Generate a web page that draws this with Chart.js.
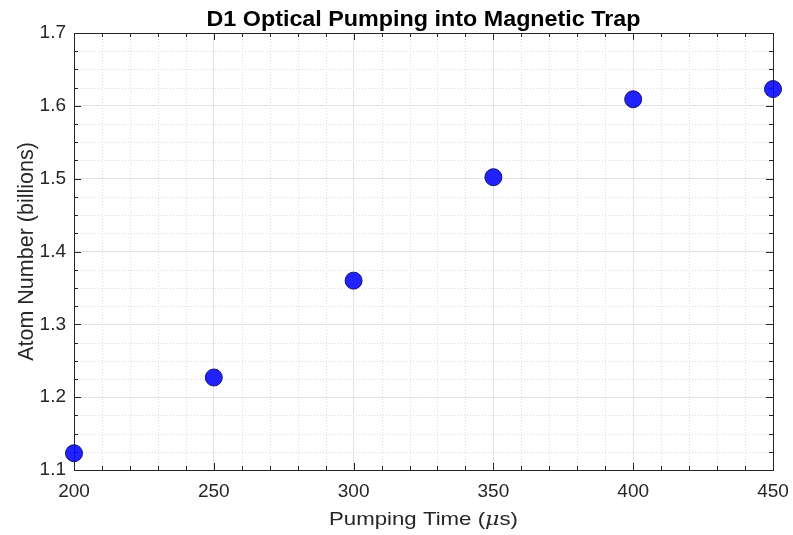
<!DOCTYPE html>
<html>
<head>
<meta charset="utf-8">
<script src="https://cdn.jsdelivr.net/npm/chart.js@4"></script>
<style>
  html, body { margin: 0; padding: 0; background: #fff; }
  #wrap { width: 793px; height: 535px; }
</style>
</head>
<body>
<div id="wrap"><canvas id="trapChart"></canvas></div>
<script>
// data
const pumpTimes = [200, 250, 300, 350, 400, 450];        // microseconds
const atomNumbers = [1.123, 1.227, 1.360, 1.502, 1.609, 1.623]; // billions
const xTicks = [200, 250, 300, 350, 400, 450];
const yTicks = [1.1, 1.2, 1.3, 1.4, 1.5, 1.6, 1.7];
const xMinorStep = 10;
const yMinorStep = 0.025;

const FONT = "'Liberation Sans', Arial, Helvetica, sans-serif";
const AXIS_COLOR = "#262626";

// text drawn a bit wider than the font, like the matlab export
function wideText(ctx, parts, cx, baseline, stretch) {
  let total = 0;
  parts.forEach(p => { ctx.font = p.f; p.w = ctx.measureText(p.t).width; total += p.w; });
  ctx.save();
  ctx.translate(cx, baseline);
  ctx.scale(stretch, 1);
  let px = -total / 2;
  ctx.textAlign = "left";
  ctx.textBaseline = "alphabetic";
  parts.forEach(p => { ctx.font = p.f; ctx.fillText(p.t, px, 0); px += p.w; });
  ctx.restore();
}

// minor grid, inward ticks, box and text labels (matlab look)
const matlabAxes = {
  id: "matlabAxes",
  beforeDatasetsDraw(chart) {
    const { ctx, chartArea: a, scales: { x, y } } = chart;
    ctx.save();

    // minor dotted grid
    ctx.strokeStyle = "#dcdcdc";
    ctx.lineWidth = 1;
    ctx.setLineDash([1, 2]);
    for (let v = x.min + xMinorStep; v < x.max; v += xMinorStep) {
      if (xTicks.some(t => Math.abs(t - v) < 1e-6)) continue;
      const px = Math.round(x.getPixelForValue(v)) + 0.5;
      ctx.beginPath(); ctx.moveTo(px, a.top); ctx.lineTo(px, a.bottom); ctx.stroke();
    }
    for (let v = y.min + yMinorStep; v < y.max - 1e-9; v += yMinorStep) {
      if (yTicks.some(t => Math.abs(t - v) < 1e-6)) continue;
      const py = Math.round(y.getPixelForValue(v)) + 0.5;
      ctx.beginPath(); ctx.moveTo(a.left, py); ctx.lineTo(a.right, py); ctx.stroke();
    }
    ctx.setLineDash([]);

    // ticks pointing inwards on all four sides
    ctx.strokeStyle = AXIS_COLOR;
    const tick = (px, py, dx, dy) => {
      ctx.beginPath(); ctx.moveTo(px, py); ctx.lineTo(px + dx, py + dy); ctx.stroke();
    };
    for (let v = x.min; v <= x.max + 1e-6; v += xMinorStep) {
      const major = xTicks.some(t => Math.abs(t - v) < 1e-6);
      const len = major ? 7 : 4;
      const px = Math.round(x.getPixelForValue(v)) + 0.5;
      tick(px, a.bottom, 0, -len);
      tick(px, a.top, 0, len);
    }
    for (let v = y.min; v <= y.max + 1e-6; v += yMinorStep) {
      const major = yTicks.some(t => Math.abs(t - v) < 1e-6);
      const len = major ? 7 : 4;
      const py = Math.round(y.getPixelForValue(v)) + 0.5;
      tick(a.left, py, len, 0);
      tick(a.right, py, -len, 0);
    }

    // box
    ctx.strokeRect(Math.round(a.left) + 0.5, Math.round(a.top) + 0.5,
      Math.round(a.right - a.left), Math.round(a.bottom - a.top));

    // title
    const cx = (a.left + a.right) / 2;
    ctx.fillStyle = "#000";
    wideText(ctx, [{ t: "D1 Optical Pumping into Magnetic Trap", f: "bold 22px " + FONT }], cx, 26, 1.06);

    // x axis title with italic mu
    ctx.fillStyle = AXIS_COLOR;
    wideText(ctx, [
      { t: "Pumping Time (", f: "19px " + FONT },
      { t: "μ", f: "italic 19px 'DejaVu Serif', serif" },
      { t: "s)", f: "19px " + FONT }
    ], cx, 525, 1.17);

    // y axis title
    ctx.translate(33, (a.top + a.bottom) / 2);
    ctx.rotate(-Math.PI / 2);
    ctx.font = "21.5px " + FONT;
    ctx.textAlign = "center";
    ctx.textBaseline = "alphabetic";
    ctx.fillText("Atom Number (billions)", 0, 0);

    ctx.restore();
  }
};

new Chart(document.getElementById("trapChart"), {
  type: "scatter",
  data: {
    datasets: [{
      data: pumpTimes.map((t, i) => ({ x: t, y: atomNumbers[i] })),
      backgroundColor: "rgba(10, 10, 255, 0.9)",
      borderColor: "#14146e",
      borderWidth: 1,
      pointRadius: 8.5,
      pointHoverRadius: 8.5,
      clip: false
    }]
  },
  options: {
    responsive: true,
    maintainAspectRatio: false,
    animation: false,
    events: [],
    layout: { padding: { top: 33, right: 20, left: 0, bottom: 0 } },
    plugins: {
      legend: { display: false },
      title: { display: false },
      tooltip: { enabled: false }
    },
    scales: {
      x: {
        type: "linear",
        min: 200,
        max: 450,
        afterBuildTicks: s => { s.ticks = xTicks.map(v => ({ value: v })); },
        afterFit: s => { s.height = 65; s.paddingLeft = 0; s.paddingRight = 0; },
        border: { display: false },
        grid: { color: "#e3e3e3", drawTicks: false },
        ticks: { color: AXIS_COLOR, font: { family: FONT, size: 19 }, padding: 10, maxRotation: 0 }
      },
      y: {
        type: "linear",
        min: 1.1,
        max: 1.7,
        afterBuildTicks: s => { s.ticks = yTicks.map(v => ({ value: v })); },
        afterFit: s => { s.width = 74; s.paddingTop = 0; s.paddingBottom = 0; },
        border: { display: false },
        grid: { color: "#e3e3e3", drawTicks: false },
        ticks: {
          color: AXIS_COLOR,
          font: { family: FONT, size: 19 },
          padding: 8,
          callback: v => v.toFixed(1)
        }
      }
    }
  },
  plugins: [matlabAxes]
});
</script>
</body>
</html>
